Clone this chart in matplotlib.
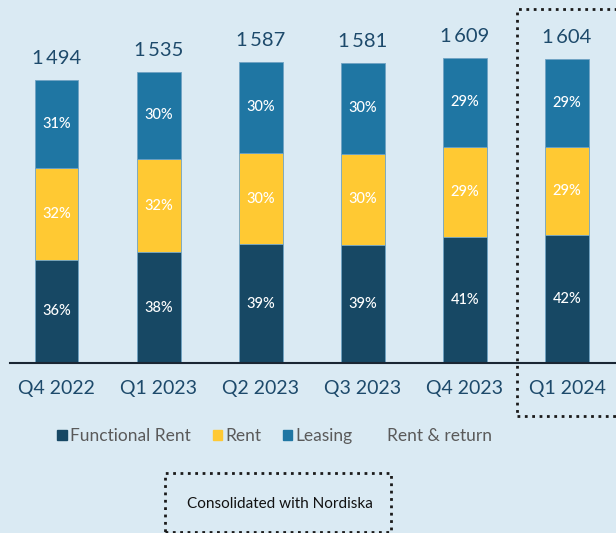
import matplotlib
matplotlib.use("Agg")
import matplotlib.pyplot as plt
from matplotlib.patches import Patch, Rectangle

quarters = ["Q4 2022", "Q1 2023", "Q2 2023", "Q3 2023", "Q4 2023", "Q1 2024"]
totals = [1494, 1535, 1587, 1581, 1609, 1604]
total_labels = ["1\u2009494", "1\u2009535", "1\u2009587", "1\u2009581", "1\u2009609", "1\u2009604"]
functional_rent = [36, 38, 39, 39, 41, 42]
rent = [32, 32, 30, 30, 29, 29]
leasing = [31, 30, 30, 30, 29, 29]

bg = "#DAEAF3"
c_func = "#174864"
c_rent = "#FFC933"
c_lease = "#1F76A3"
c_text = "#1D4A6B"

plt.rcParams['font.family'] = ['Lato', 'DejaVu Sans']

fig = plt.figure(figsize=(6.16, 5.33), dpi=100, facecolor=bg)
ax = fig.add_axes([10 / 616, 1 - 363 / 533, 1 - 10 / 616, 363 / 533])
ax.set_facecolor(bg)

x = list(range(len(quarters)))
for i in x:
    s = functional_rent[i] + rent[i] + leasing[i]
    bottom = 0
    for pct, col in [(functional_rent[i], c_func), (rent[i], c_rent), (leasing[i], c_lease)]:
        h = totals[i] * pct / s
        ax.bar(i, h, bottom=bottom, width=0.43, color=col, edgecolor="#6FA3C4", linewidth=0.6)
        ax.text(i, bottom + h / 2, f"{pct}%", ha="center", va="center", color="white",
                fontsize=10.5, fontweight="medium")
        bottom += h
    ax.annotate(total_labels[i], (i, totals[i]), xytext=(0, 9), textcoords="offset points",
                ha="center", va="bottom", fontsize=14.5, color=c_text)

ax.set_xlim(-0.455, 5.48)
ax.set_ylim(0, 1913)
ax.set_xticks(x)
ax.set_xticklabels(quarters, fontsize=14, color=c_text)
ax.tick_params(axis="x", length=0, pad=12)
ax.set_yticks([])
for sp in ["top", "left", "right"]:
    ax.spines[sp].set_visible(False)
ax.spines["bottom"].set_color("#1A2633")
ax.spines["bottom"].set_linewidth(1.5)

handles = [Patch(color=c_func), Patch(color=c_rent), Patch(color=c_lease), Patch(color=bg)]
names = ["Functional Rent", "Rent", "Leasing", "Rent & return"]
fig.legend(handles, names, loc="center", bbox_to_anchor=(0.446, 1 - 436 / 533), ncol=4,
           frameon=False, fontsize=12.5, handlelength=0.52, handleheight=0.52, handletextpad=0.2,
           columnspacing=1.26, labelcolor="#5A5A5A")

W, H = 616, 533
# dotted box around latest quarter
fig.patches.append(Rectangle((517 / W, 1 - 416 / H), 110 / W, 407 / H, transform=fig.transFigure,
                             fill=False, linestyle=":", linewidth=2, edgecolor="#1A1A1A"))
# dotted box at bottom
fig.patches.append(Rectangle((165 / W, 1 - 532 / H), 226 / W, 59 / H, transform=fig.transFigure,
                             fill=False, linestyle=":", linewidth=2, edgecolor="#1A1A1A"))
fig.text(280 / W, 1 - 504 / H, "Consolidated with Nordiska", ha="center", va="center",
         fontsize=11, color="#111111")

fig.savefig("out.png", dpi=100, facecolor=bg)
